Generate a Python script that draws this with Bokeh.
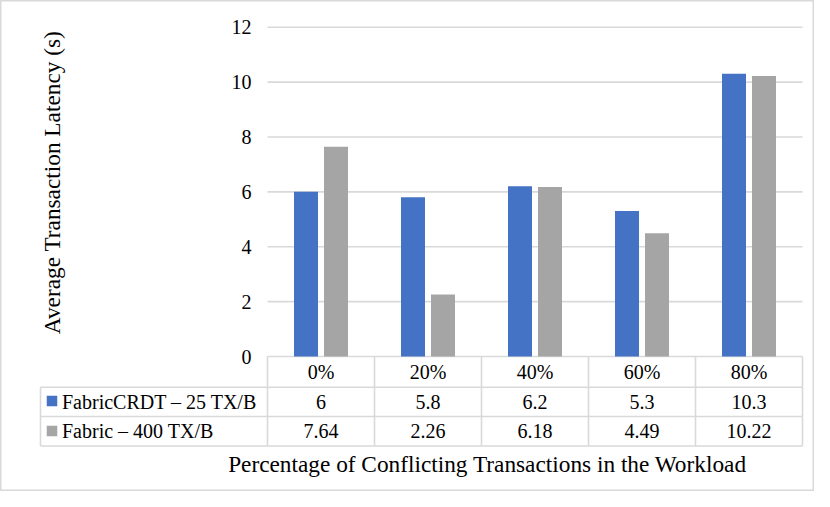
import math
from bokeh.plotting import figure
from bokeh.models import Range1d, LinearAxis, FixedTicker
from bokeh.core.properties import value
from bokeh.embed import file_html
from bokeh.resources import INLINE

# ---------------- data ----------------
categories = ["0%", "20%", "40%", "60%", "80%"]
fabriccrdt = [6, 5.8, 6.2, 5.3, 10.3]
fabric = [7.64, 2.26, 6.18, 4.49, 10.22]
fabriccrdt_labels = ["6", "5.8", "6.2", "5.3", "10.3"]
fabric_labels = ["7.64", "2.26", "6.18", "4.49", "10.22"]
series_names = ["FabricCRDT \u2013 25 TX/B", "Fabric \u2013 400 TX/B"]
y_ticks = [0, 2, 4, 6, 8, 10, 12]
y_label = "Average Transaction Latency (s)"
x_label = "Percentage of Conflicting Transactions in the Workload"

# ---------------- layout ----------------
W, H = 814, 491
OFF = 0
X0, CW = 267, 107       # left of plot area / category width (px)
Y0, PPU = 356, 27.44    # y of value 0 / px per unit
FONT = "Liberation Serif"
FS = "20px"
TFS = "23.3px"
GRID = "#d9d9d9"
BLUE = "#4472C4"
GRAY = "#A5A5A5"
n = len(categories)

fx0 = X0 - OFF
fy0 = Y0 - OFF
p = figure(width=W, height=H, output_backend="svg", toolbar_location=None,
           x_axis_type=None, y_axis_type=None,
           x_range=Range1d(-fx0 / CW, (W - fx0) / CW),
           y_range=Range1d((fy0 - H) / PPU, fy0 / PPU),
           min_border=0, min_border_left=0, min_border_right=0,
           min_border_top=0, min_border_bottom=0)
p.extra_x_ranges = {"px": Range1d(0, W)}
p.extra_y_ranges = {"py": Range1d(H, 0)}
p.grid.visible = False
p.background_fill_color = "white"
p.border_fill_color = "white"
p.outline_line_color = GRID
p.outline_line_width = 2

def ry(y):
    return y - OFF

def rx(x):
    return x - OFF

# gridlines
p.segment(x0=[0] * len(y_ticks), x1=[n] * len(y_ticks), y0=y_ticks, y1=y_ticks,
          line_color=GRID, line_width=1.6)

# bars
xs = [i + 0.5 for i in range(n)]
off = 15 / CW
bw = 24 / CW
p.vbar(x=[x - off for x in xs], top=fabriccrdt, bottom=0, width=bw,
       fill_color=BLUE, line_color=None)
p.vbar(x=[x + off for x in xs], top=fabric, bottom=0, width=bw,
       fill_color=GRAY, line_color=None)

# y axis
ax = LinearAxis(fixed_location=0, ticker=FixedTicker(ticks=y_ticks))
ax.axis_line_color = None
ax.major_tick_line_color = None
ax.minor_tick_line_color = None
ax.major_tick_out = 0
ax.major_tick_in = 0
ax.major_label_standoff = 16
ax.major_label_text_font = FONT
ax.major_label_text_font_size = FS
ax.major_label_text_color = "black"
p.add_layout(ax, "left")

# table lines (pixel coordinates)
row_lines = [386.7, 416, 445.5]
table_left = 40
table_right = X0 + n * CW
p.segment(x0=[rx(table_left)] * 3, x1=[rx(table_right)] * 3,
          y0=[ry(y) for y in row_lines], y1=[ry(y) for y in row_lines],
          x_range_name="px", y_range_name="py", line_color=GRID, line_width=1.6)
p.segment(x0=[rx(table_left)], x1=[rx(table_left)], y0=[ry(row_lines[0])], y1=[ry(row_lines[-1])],
          x_range_name="px", y_range_name="py", line_color=GRID, line_width=1.6)
p.segment(x0=list(range(n + 1)), x1=list(range(n + 1)),
          y0=[ry(Y0)] * (n + 1), y1=[ry(row_lines[-1])] * (n + 1),
          y_range_name="py", line_color=GRID, line_width=1.6)

# table text
row_y = [371.5, 401, 430.5]
p.text(x=xs, y=[ry(row_y[0])] * n, text=categories, y_range_name="py",
       text_font=value(FONT), text_font_size=FS, text_align="center",
       text_baseline="middle", text_color="black")
p.text(x=xs, y=[ry(row_y[1])] * n, text=fabriccrdt_labels, y_range_name="py",
       text_font=value(FONT), text_font_size=FS, text_align="center",
       text_baseline="middle", text_color="black")
p.text(x=xs, y=[ry(row_y[2])] * n, text=fabric_labels, y_range_name="py",
       text_font=value(FONT), text_font_size=FS, text_align="center",
       text_baseline="middle", text_color="black")

# legend keys and names
p.rect(x=[rx(51.5), rx(51.5)], y=[ry(400.5), ry(430.5)], width=10.5, height=10.5,
       width_units="screen", height_units="screen",
       fill_color=[BLUE, GRAY], line_color=None,
       x_range_name="px", y_range_name="py")
p.text(x=[rx(61.5)] * 2, y=[ry(row_y[1]), ry(row_y[2])], text=series_names,
       x_range_name="px", y_range_name="py",
       text_font=value(FONT), text_font_size=FS, text_align="left",
       text_baseline="middle", text_color="black")

# axis titles
p.text(x=[rx(487)], y=[ry(463)], text=[x_label], x_range_name="px", y_range_name="py",
       text_font=value(FONT), text_font_size=TFS, text_align="center",
       text_baseline="middle", text_color="black")
p.text(x=[rx(51)], y=[ry(182)], text=[y_label], x_range_name="px", y_range_name="py",
       angle=math.pi / 2,
       text_font=value(FONT), text_font_size=TFS, text_align="center",
       text_baseline="middle", text_color="black")

open("out.html", "w").write(file_html(p, INLINE))
